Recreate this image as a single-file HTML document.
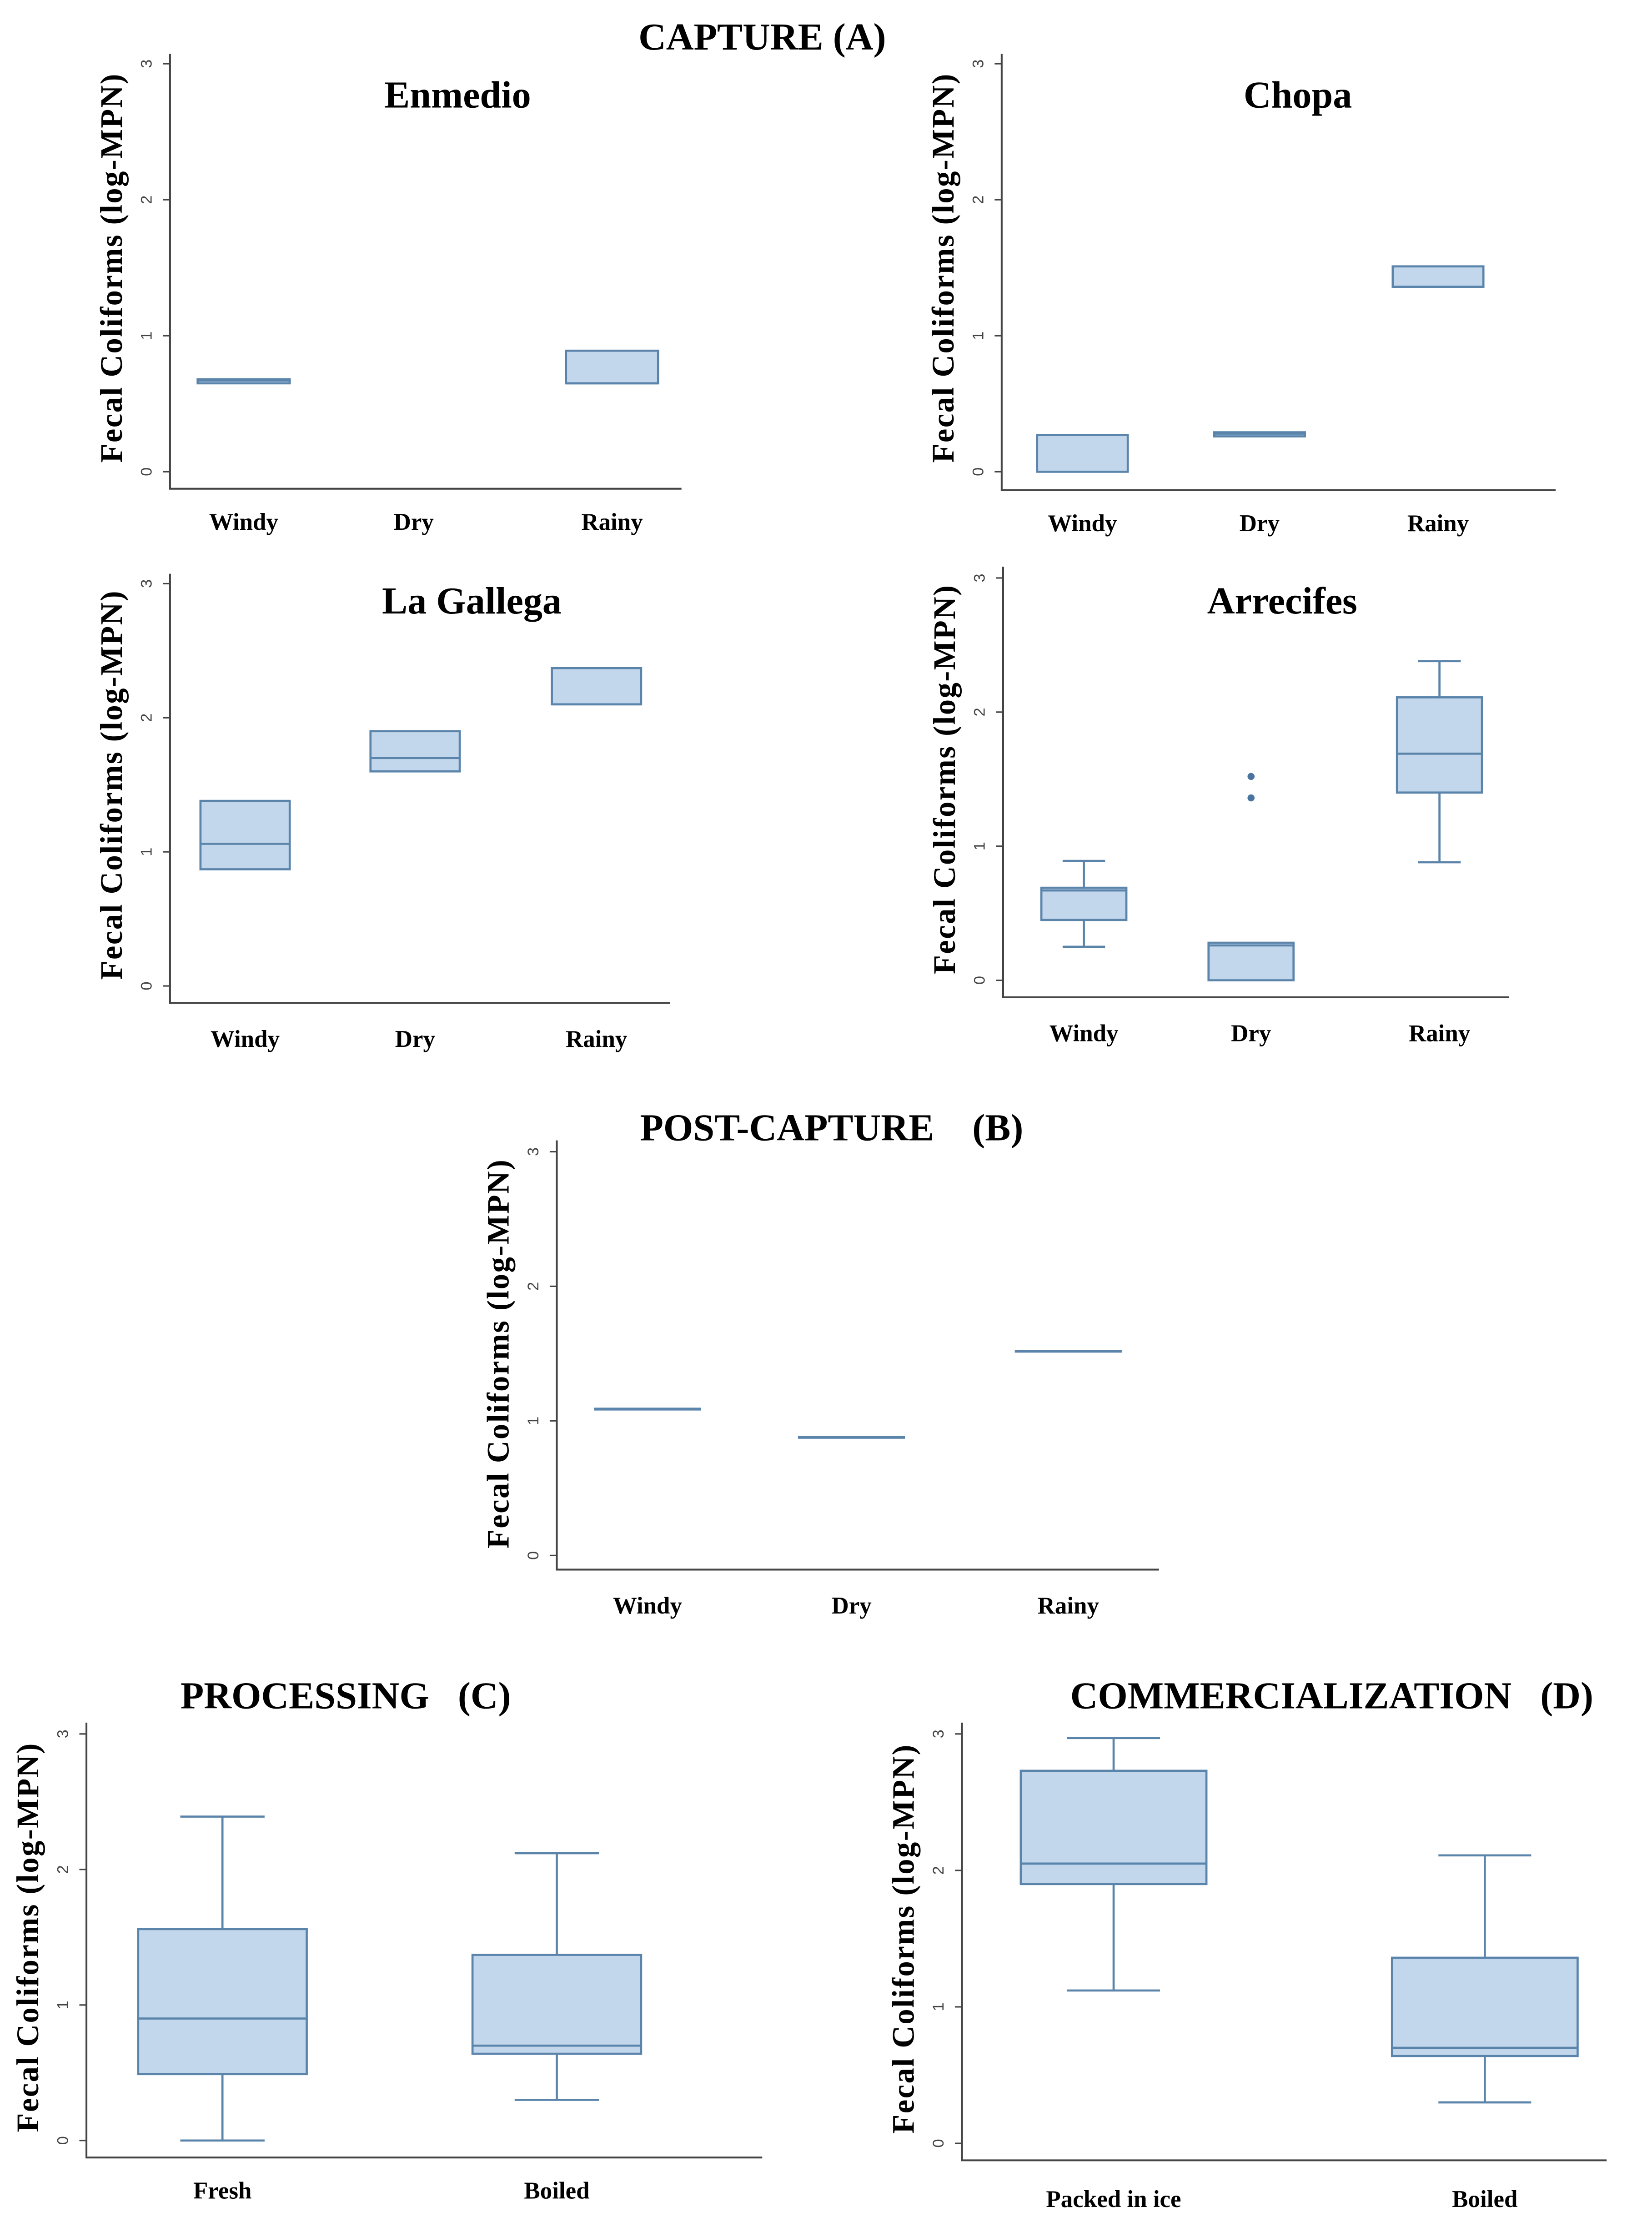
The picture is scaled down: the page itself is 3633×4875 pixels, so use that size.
<!DOCTYPE html>
<html><head><meta charset="utf-8"><style>
html,body{margin:0;padding:0;background:#fff;}
svg{display:block;}
text{font-family:"Liberation Serif",serif;font-weight:bold;fill:#000;}
.tick{font-family:"Liberation Sans",sans-serif;font-weight:normal;fill:#444;font-size:11px;}
</style></head><body>
<svg id="fig" width="3633" height="4875" viewBox="0 0 1166 1565" preserveAspectRatio="none" xmlns="http://www.w3.org/2000/svg">
<text x="538" y="35" font-size="27" text-anchor="middle">CAPTURE (A)</text>
<text x="587" y="805" font-size="27" text-anchor="middle" xml:space="preserve">POST-CAPTURE    (B)</text>
<text x="244" y="1206" font-size="27" text-anchor="middle" xml:space="preserve">PROCESSING   (C)</text>
<text x="940" y="1206" font-size="27" text-anchor="middle" xml:space="preserve">COMMERCIALIZATION   (D)</text>
</svg>
<script>
// Data arrays (log-MPN values)
const seasonCats = ["Windy","Dry","Rainy"];
const stageCats = ["Fresh","Boiled"];
const commCats = ["Packed in ice","Boiled"];
const yTicks = [0,1,2,3];
// each box: [whiskerLow, q1, median, q3, whiskerHigh]
const enmedioBoxes = [[0.65,0.65,0.67,0.68,0.68], null, [0.65,0.65,0.65,0.89,0.89]];
const chopaBoxes = [[0,0,0,0.27,0.27],[0.26,0.26,0.28,0.29,0.29],[1.36,1.36,1.36,1.51,1.51]];
const gallegaBoxes = [[0.87,0.87,1.06,1.38,1.38],[1.6,1.6,1.7,1.9,1.9],[2.1,2.1,2.1,2.37,2.37]];
const arrecifesBoxes = [[0.25,0.45,0.67,0.69,0.89],[0,0,0.26,0.28,0.28],[0.88,1.4,1.69,2.11,2.38]];
const arrecifesOutliers = [[],[1.36,1.52],[]];
const postBoxes = [[1.09,1.09,1.09,1.09,1.09],[0.88,0.88,0.88,0.88,0.88],[1.52,1.52,1.52,1.52,1.52]];
const processingBoxes = [[0,0.49,0.9,1.56,2.39],[0.3,0.64,0.7,1.37,2.12]];
const commBoxes = [[1.12,1.9,2.05,2.73,2.97],[0.3,0.64,0.7,1.36,2.11]];

const NS="http://www.w3.org/2000/svg";
const svg=document.getElementById('fig');
function el(tag,attrs,parent){const e=document.createElementNS(NS,tag);for(const k in attrs)e.setAttribute(k,attrs[k]);(parent||svg).appendChild(e);return e;}

function panel(p){
  const g=el('g',{});
  
  
  const y=v=>p.y0-(p.y0-p.y3)*v/3;
  const ax=el('path',{d:`M${p.ax} ${p.top} L${p.ax} ${p.xaxY} L${p.xEnd} ${p.xaxY}`,fill:'none',stroke:'#444','stroke-width':1.3},g);
  
  
  yTicks.forEach(t=>{
    el('line',{x1:p.ax-5,x2:p.ax,y1:y(t),y2:y(t),stroke:'#444','stroke-width':1},g);
    const tx=el('text',{class:'tick',x:0,y:0,'text-anchor':'middle',transform:`translate(${p.ax-13},${y(t)}) rotate(-90)`},g);
    tx.textContent=t;
    
    
  });
  const yt=el('text',{'font-size':22,'letter-spacing':0.8,'text-anchor':'middle',transform:`translate(${p.ax-34},${(p.y0+p.y3)/2}) rotate(-90)`},g);
  yt.textContent='Fecal Coliforms (log-MPN)';
  
  
  if(p.title){
    const tt=el('text',{x:p.tx,y:p.ty,'font-size':27,'text-anchor':'middle'},g);
    tt.textContent=p.title;
    
    
  }
  p.cats.forEach((c,i)=>{
    const lt=el('text',{x:p.cx[i],y:p.ly,'font-size':17,'text-anchor':'middle'},g);
    lt.textContent=c;
    
    
    const b=p.boxes[i];
    if(!b)return;
    const hw=p.bw/2,cx=p.cx[i],cw=p.bw/4;
    const bg=el('g',{stroke:'#5b84ab','stroke-width':1.5,fill:'#c3d7ec'},g);
    
    
    if(b[4]>b[3]){el('line',{x1:cx,x2:cx,y1:y(b[3]),y2:y(b[4])},bg);el('line',{x1:cx-cw,x2:cx+cw,y1:y(b[4]),y2:y(b[4])},bg);}
    if(b[0]<b[1]){el('line',{x1:cx,x2:cx,y1:y(b[0]),y2:y(b[1])},bg);el('line',{x1:cx-cw,x2:cx+cw,y1:y(b[0]),y2:y(b[0])},bg);}
    el('rect',{x:cx-hw,y:y(b[3]),width:p.bw,height:Math.max(y(b[1])-y(b[3]),0.5)},bg);
    el('line',{x1:cx-hw,x2:cx+hw,y1:y(b[2]),y2:y(b[2])},bg);
    if(p.out&&p.out[i])p.out[i].forEach(o=>{
      const d=el('circle',{cx:cx,cy:y(o),r:2.5,fill:'#4a74a0',stroke:'none'},bg);
      
      
    });
  });
}

panel({name:'enmedio-panel',title:'Enmedio',tx:323,ty:76,ax:120,top:38,xaxY:345,xEnd:481,y0:333,y3:45,cats:seasonCats,cx:[172,292,432],bw:65,ly:374,boxes:enmedioBoxes});
panel({name:'chopa-panel',title:'Chopa',tx:916,ty:76,ax:707,top:38,xaxY:346,xEnd:1098,y0:333,y3:45,cats:seasonCats,cx:[764,889,1015],bw:64,ly:375,boxes:chopaBoxes});
panel({name:'la-gallega-panel',title:'La Gallega',tx:333,ty:433,ax:120,top:405,xaxY:708,xEnd:473,y0:696,y3:412,cats:seasonCats,cx:[173,293,421],bw:63,ly:739,boxes:gallegaBoxes});
panel({name:'arrecifes-panel',title:'Arrecifes',tx:905,ty:433,ax:708,top:400,xaxY:704,xEnd:1065,y0:692,y3:408,cats:seasonCats,cx:[765,883,1016],bw:60,ly:735,boxes:arrecifesBoxes,out:arrecifesOutliers});
panel({name:'post-capture-panel',title:null,ax:393,top:805,xaxY:1108,xEnd:818,y0:1098,y3:813,cats:seasonCats,cx:[457,601,754],bw:74,ly:1139,boxes:postBoxes});
panel({name:'processing-panel',title:null,ax:61,top:1216,xaxY:1523,xEnd:538,y0:1511,y3:1224,cats:stageCats,cx:[157,393],bw:119,ly:1552,boxes:processingBoxes});
panel({name:'commercialization-panel',title:null,ax:679,top:1216,xaxY:1525,xEnd:1134,y0:1513,y3:1224,cats:commCats,cx:[786,1048],bw:131,ly:1558,boxes:commBoxes});
</script>
</body></html>
